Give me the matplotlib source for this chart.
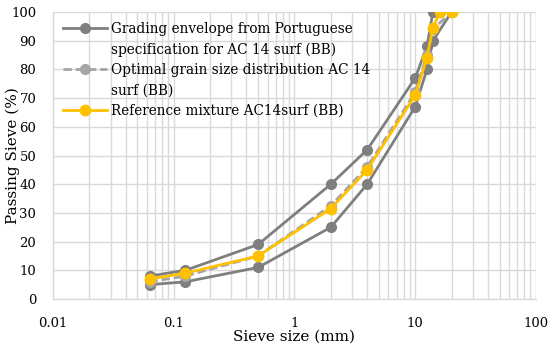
import matplotlib
matplotlib.use("Agg")
import matplotlib.pyplot as plt
from matplotlib.lines import Line2D
from matplotlib.ticker import FixedLocator, FixedFormatter, LogLocator, NullFormatter

plt.rcParams['font.family'] = ['DejaVu Serif']

# Data
sieve_env = [0.063, 0.125, 0.5, 2, 4, 10, 12.5, 14]
env_upper = [8, 10, 19, 40, 52, 77, 88, 100]
sieve_env_low = [0.063, 0.125, 0.5, 2, 4, 10, 12.5, 14, 20]
env_lower = [5, 6, 11, 25, 40, 67, 80, 90, 100]

sieve_opt = [0.063, 0.125, 0.5, 2, 4, 10, 12.5, 14, 20]
opt_values = [6, 8, 15, 32.5, 46, 72, 85, 94, 100]

sieve_ref = [0.063, 0.125, 0.5, 2, 4, 10, 12.5, 14, 16, 20]
ref_values = [7, 9, 15, 31.5, 45, 71, 84, 94.5, 100, 100]

x_ticks = [0.01, 0.1, 1, 10, 100]
x_tick_labels = ["0.01", "0.1", "1", "10", "100"]
y_ticks = list(range(0, 101, 10))

legend_lines = [["Grading envelope from Portuguese", "specification for AC 14 surf (BB)"],
                ["Optimal grain size distribution AC 14", "surf (BB)"],
                ["Reference mixture AC14surf (BB)"]]

c_env = "#7F7F7F"
c_opt = "#A5A5A5"
c_ref = "#FFC000"
c_grid = "#D9D9D9"

fig = plt.figure(figsize=(5.5, 3.47), dpi=100)
ax = fig.add_axes([0.0964, 0.1383, 0.8781, 0.8271])

lw = 2.0
ms = 7
dash = (0, (3, 1.4))
ax.plot(sieve_env, env_upper, color=c_env, lw=lw, marker='o', ms=ms, zorder=3)
ax.plot(sieve_env_low, env_lower, color=c_env, lw=lw, marker='o', ms=ms, zorder=3)
ax.plot(sieve_opt, opt_values, color=c_opt, lw=lw, ls=dash, marker='o', ms=ms, zorder=4)
ax.plot(sieve_ref, ref_values, color=c_ref, lw=lw, marker='o', ms=7.5, zorder=5)

ax.set_xscale('log')
ax.set_xlim(0.01, 100)
ax.set_ylim(0, 100)
ax.xaxis.set_major_locator(FixedLocator(x_ticks))
ax.xaxis.set_major_formatter(FixedFormatter(x_tick_labels))
ax.xaxis.set_minor_locator(LogLocator(base=10, subs=range(2, 10), numticks=20))
ax.xaxis.set_minor_formatter(NullFormatter())
ax.set_yticks(y_ticks)

ax.grid(True, which='major', color=c_grid, lw=1.0, zorder=0)
ax.grid(True, which='minor', axis='x', color=c_grid, lw=1.0, zorder=0)
ax.set_axisbelow(True)

for s in ['top', 'right']:
    ax.spines[s].set_visible(False)
for s in ['left', 'bottom']:
    ax.spines[s].set_color(c_grid)
    ax.spines[s].set_linewidth(1.0)

ax.tick_params(which='both', length=0, labelsize=9.5, colors='black')
ax.tick_params(axis='x', pad=13)
ax.tick_params(axis='y', pad=12)
ax.set_xlabel("Sieve size (mm)", fontsize=11, labelpad=0)
ax.set_ylabel("Passing Sieve (%)", fontsize=11)
ax.yaxis.set_label_coords(-0.068, 0.5)

# legend: handles aligned with the first line of each wrapped label
styles = [dict(color=c_env, lw=lw, marker='o', ms=ms),
          dict(color=c_opt, lw=lw, ls=dash, marker='o', ms=ms),
          dict(color=c_ref, lw=lw, marker='o', ms=7.5)]
handles, texts = [], []
for st, lines in zip(styles, legend_lines):
    handles.append(Line2D([], [], **st))
    texts.append(lines[0])
    for extra in lines[1:]:
        handles.append(Line2D([], [], lw=0, marker=None, color='none'))
        texts.append(extra)

ax.legend(handles, texts, loc='upper left', bbox_to_anchor=(0.0207, 0.9655), frameon=False,
          fontsize=9.8, handlelength=3.2, handletextpad=0.35, labelspacing=0.47,
          borderaxespad=0, borderpad=0)

fig.savefig("out.png", dpi=100)
